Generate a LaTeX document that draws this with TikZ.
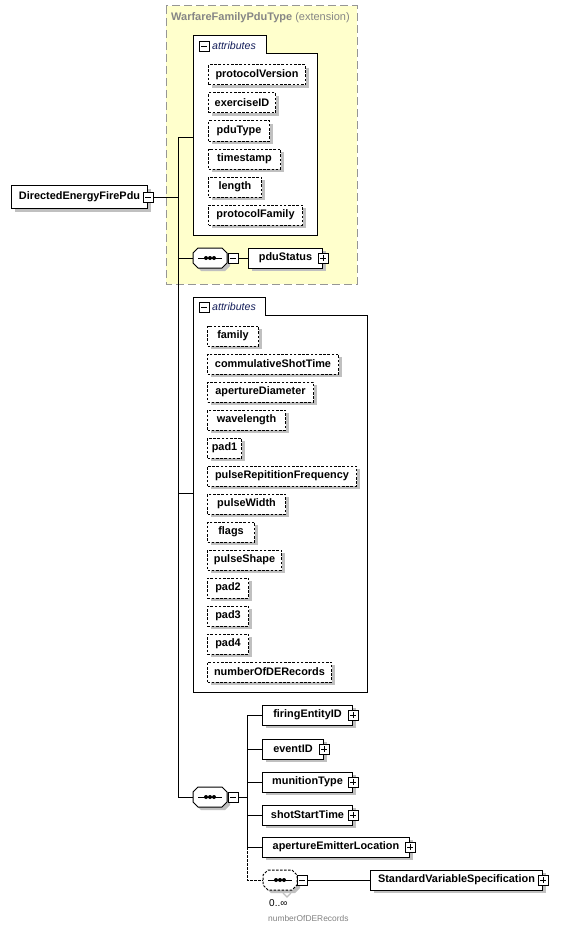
\documentclass[tikz,border=0pt]{standalone}
\usepackage{fontspec}
\setmainfont{Liberation Sans}
\usetikzlibrary{shadows}
\definecolor{ybg}{RGB}{255,255,204}
\definecolor{ybord}{RGB}{150,150,150}
\definecolor{shd}{RGB}{192,192,192}
\definecolor{attc}{RGB}{20,30,90}
\newcommand\elfont{\fontsize{10.9}{12}\selectfont\bfseries}
\newcommand\attfont{\fontsize{10.6}{12}\selectfont\itshape\color{attc}}
\newcommand\seqnode[4][solid]{%
  \fill[shd] (#3-9,#4-7) -- (#3+15,#4-7) -- (#3+20,#4-2) -- (#3+20,#4+8) -- (#3+15,#4+13) -- (#3-9,#4+13) -- (#3-14,#4+8) -- (#3-14,#4-2) -- cycle;
  \draw[line width=1pt,fill=white,#1] (#3-12,#4-10) -- (#3+12,#4-10) -- (#3+17,#4-5) -- (#3+17,#4+5) -- (#3+12,#4+10) -- (#3-12,#4+10) -- (#3-17,#4+5) -- (#3-17,#4-5) -- cycle;
  \node[inner sep=0pt,minimum width=34pt,minimum height=20pt] (#2) at (#3,#4) {};
  \draw[line width=1pt] (#3-12,#4) -- (#3+12,#4);
  \foreach \d in {-4,0,4} \fill (#3+\d,#4) circle (2pt);
}
\tikzset{
  shadowed/.style={drop shadow={shadow xshift=3pt,shadow yshift=-3pt,fill=shd,opacity=1}},
  elem/.style={draw,line width=1pt,fill=white,minimum height=20pt,minimum width=#1,inner sep=0pt,anchor=west,font=\elfont,shadowed},
  attr/.style={elem=#1,dash pattern=on 2.6pt off 1.6pt},
  pmbox/.style={draw,fill=white,line width=0.8pt,minimum size=10pt,inner sep=0pt},
  minusbox/.style={pmbox,path picture={\draw[line width=0.8pt] ([xshift=2pt]path picture bounding box.west) -- ([xshift=-2pt]path picture bounding box.east);}},
  plusbox/.style={pmbox,path picture={\draw[line width=0.8pt] ([xshift=2pt]path picture bounding box.west) -- ([xshift=-2pt]path picture bounding box.east) ([yshift=2pt]path picture bounding box.south) -- ([yshift=-2pt]path picture bounding box.north);}},
  conn/.style={line width=1pt},
}
\begin{document}
\begin{tikzpicture}[x=1pt,y=-1pt]
\useasboundingbox (0,0) rectangle (571,931);
% extension box
\draw[ybord,line width=1pt,dash pattern=on 8pt off 4pt,fill=ybg] (166,6) rectangle (357,284);
\node[anchor=west,text=gray!95,font=\fontsize{11}{12}\selectfont,inner sep=0pt] (ext) at (171,18) {\textbf{WarfareFamilyPduType} (extension)};
% attributes group 1
\draw[line width=1pt,fill=white] (193,36) -| (266,54) -| (317,235) -| cycle;
\node[minusbox] (a1m) at (204,46) {};
\node[anchor=west,inner sep=0pt,font=\attfont] (a1l) at (212,46) {attributes};
\coordinate (att1) at (193,137);
\node[attr=97] (pv) at (208,75) {protocolVersion};
\node[attr=67] (ex) at (208,103) {exerciseID};
\node[attr=61] (pt) at (208,131) {pduType};
\node[attr=72] (ts) at (208,159) {timestamp};
\node[attr=53] (ln) at (208,187) {length};
\node[attr=94] (pf) at (208,215) {protocolFamily};
% sequence 1
\seqnode{s1}{210}{258}
\node[minusbox] (s1m) at (233,258) {};
\node[elem=74] (ps) at (248,258) {pduStatus\hspace{6pt}};
\node[plusbox] (psp) at (ps.east) {};
% root
\node[elem=136,minimum height=23pt] (root) at (11,197) {DirectedEnergyFirePdu\hspace{5pt}};
\node[minusbox] (rm) at (root.east) {};
% attributes group 2
\draw[line width=1pt,fill=white] (193,297) -| (265,315) -| (367,692) -| cycle;
\node[minusbox] (a2m) at (204,307) {};
\node[anchor=west,inner sep=0pt,font=\attfont] (a2l) at (212,307) {attributes};
\coordinate (att2) at (193,493);
\node[attr=51] (fa) at (207,336) {family};
\node[attr=131] (cs) at (207,364) {commulativeShotTime};
\node[attr=106] (ad) at (207,392) {apertureDiameter};
\node[attr=78] (wl) at (207,420) {wavelength};
\node[attr=34] (p1) at (207,448) {pad1};
\node[attr=149] (pr) at (207,476) {pulseRepititionFrequency};
\node[attr=78] (pw) at (207,504) {pulseWidth};
\node[attr=47] (fl) at (207,532) {flags};
\node[attr=74] (psh) at (207,560) {pulseShape};
\node[attr=41] (p2) at (207,588) {pad2};
\node[attr=41] (p3) at (207,616) {pad3};
\node[attr=41] (p4) at (207,644) {pad4};
\node[attr=124] (nd) at (207,672) {numberOfDERecords};
% sequence 2
\seqnode{s2}{210}{797}
\node[minusbox] (s2m) at (233,797) {};
\node[elem=90] (fe) at (262,715) {firingEntityID\hspace{5pt}};
\node[plusbox] (fep) at (fe.east) {};
\node[elem=61] (ev) at (262,749) {eventID\hspace{5pt}};
\node[plusbox] (evp) at (ev.east) {};
\node[elem=90] (mt) at (262,782) {munitionType\hspace{5pt}};
\node[plusbox] (mtp) at (mt.east) {};
\node[elem=90] (ss) at (262,815) {shotStartTime\hspace{5pt}};
\node[plusbox] (ssp) at (ss.east) {};
\node[elem=147] (ae) at (262,847) {apertureEmitterLocation\hspace{5pt}};
\node[plusbox] (aep) at (ae.east) {};
% sequence 3 (dashed, 0..inf)
\draw[shd,line width=1.2pt] (283,893) -- (287,897) -- (291,893);
\seqnode[dash pattern=on 2.5pt off 1.5pt]{s3}{280}{880}
\node[minusbox] (s3m) at (302,880) {};
\node[elem=172] (svs) at (370,880) {StandardVariableSpecification\hspace{5pt}};
\node[plusbox] (svsp) at (svs.east) {};
\node[anchor=west,inner sep=0pt,font=\fontsize{10}{12}\selectfont] (mul) at (269,903) {0..∞};
\node[anchor=west,inner sep=0pt,text=gray,font=\fontsize{8.4}{10}\selectfont] (mname) at (268,918) {numberOfDERecords};
% connectors
\coordinate (tTop) at (178,137);
\coordinate (tBot) at (178,797);
\draw[conn] (tTop) -- (tBot);
\draw[conn] (rm.east) -- (rm.east -| tTop);
\draw[conn] (tTop) -- (att1);
\draw[conn] (s1.west -| tTop) -- (s1.west);
\draw[conn] (att2 -| tTop) -- (att2);
\draw[conn] (tBot) -- (s2.west);
\draw[conn] (s1m.east) -- (ps.west);
\coordinate (b2top) at (247,715);
\coordinate (b2bot) at (247,847);
\draw[conn] (s2m.east) -- (s2m.east -| b2top);
\draw[conn] (b2top) -- (b2bot);
\foreach \c in {fe,ev,mt,ss,ae} \draw[conn] (\c.west -| b2top) -- (\c.west);
\draw[conn,dash pattern=on 2.5pt off 1.5pt] (b2bot) |- (s3.west);
\draw[conn] (s3m.east) -- (svs.west);
\end{tikzpicture}
\end{document}
